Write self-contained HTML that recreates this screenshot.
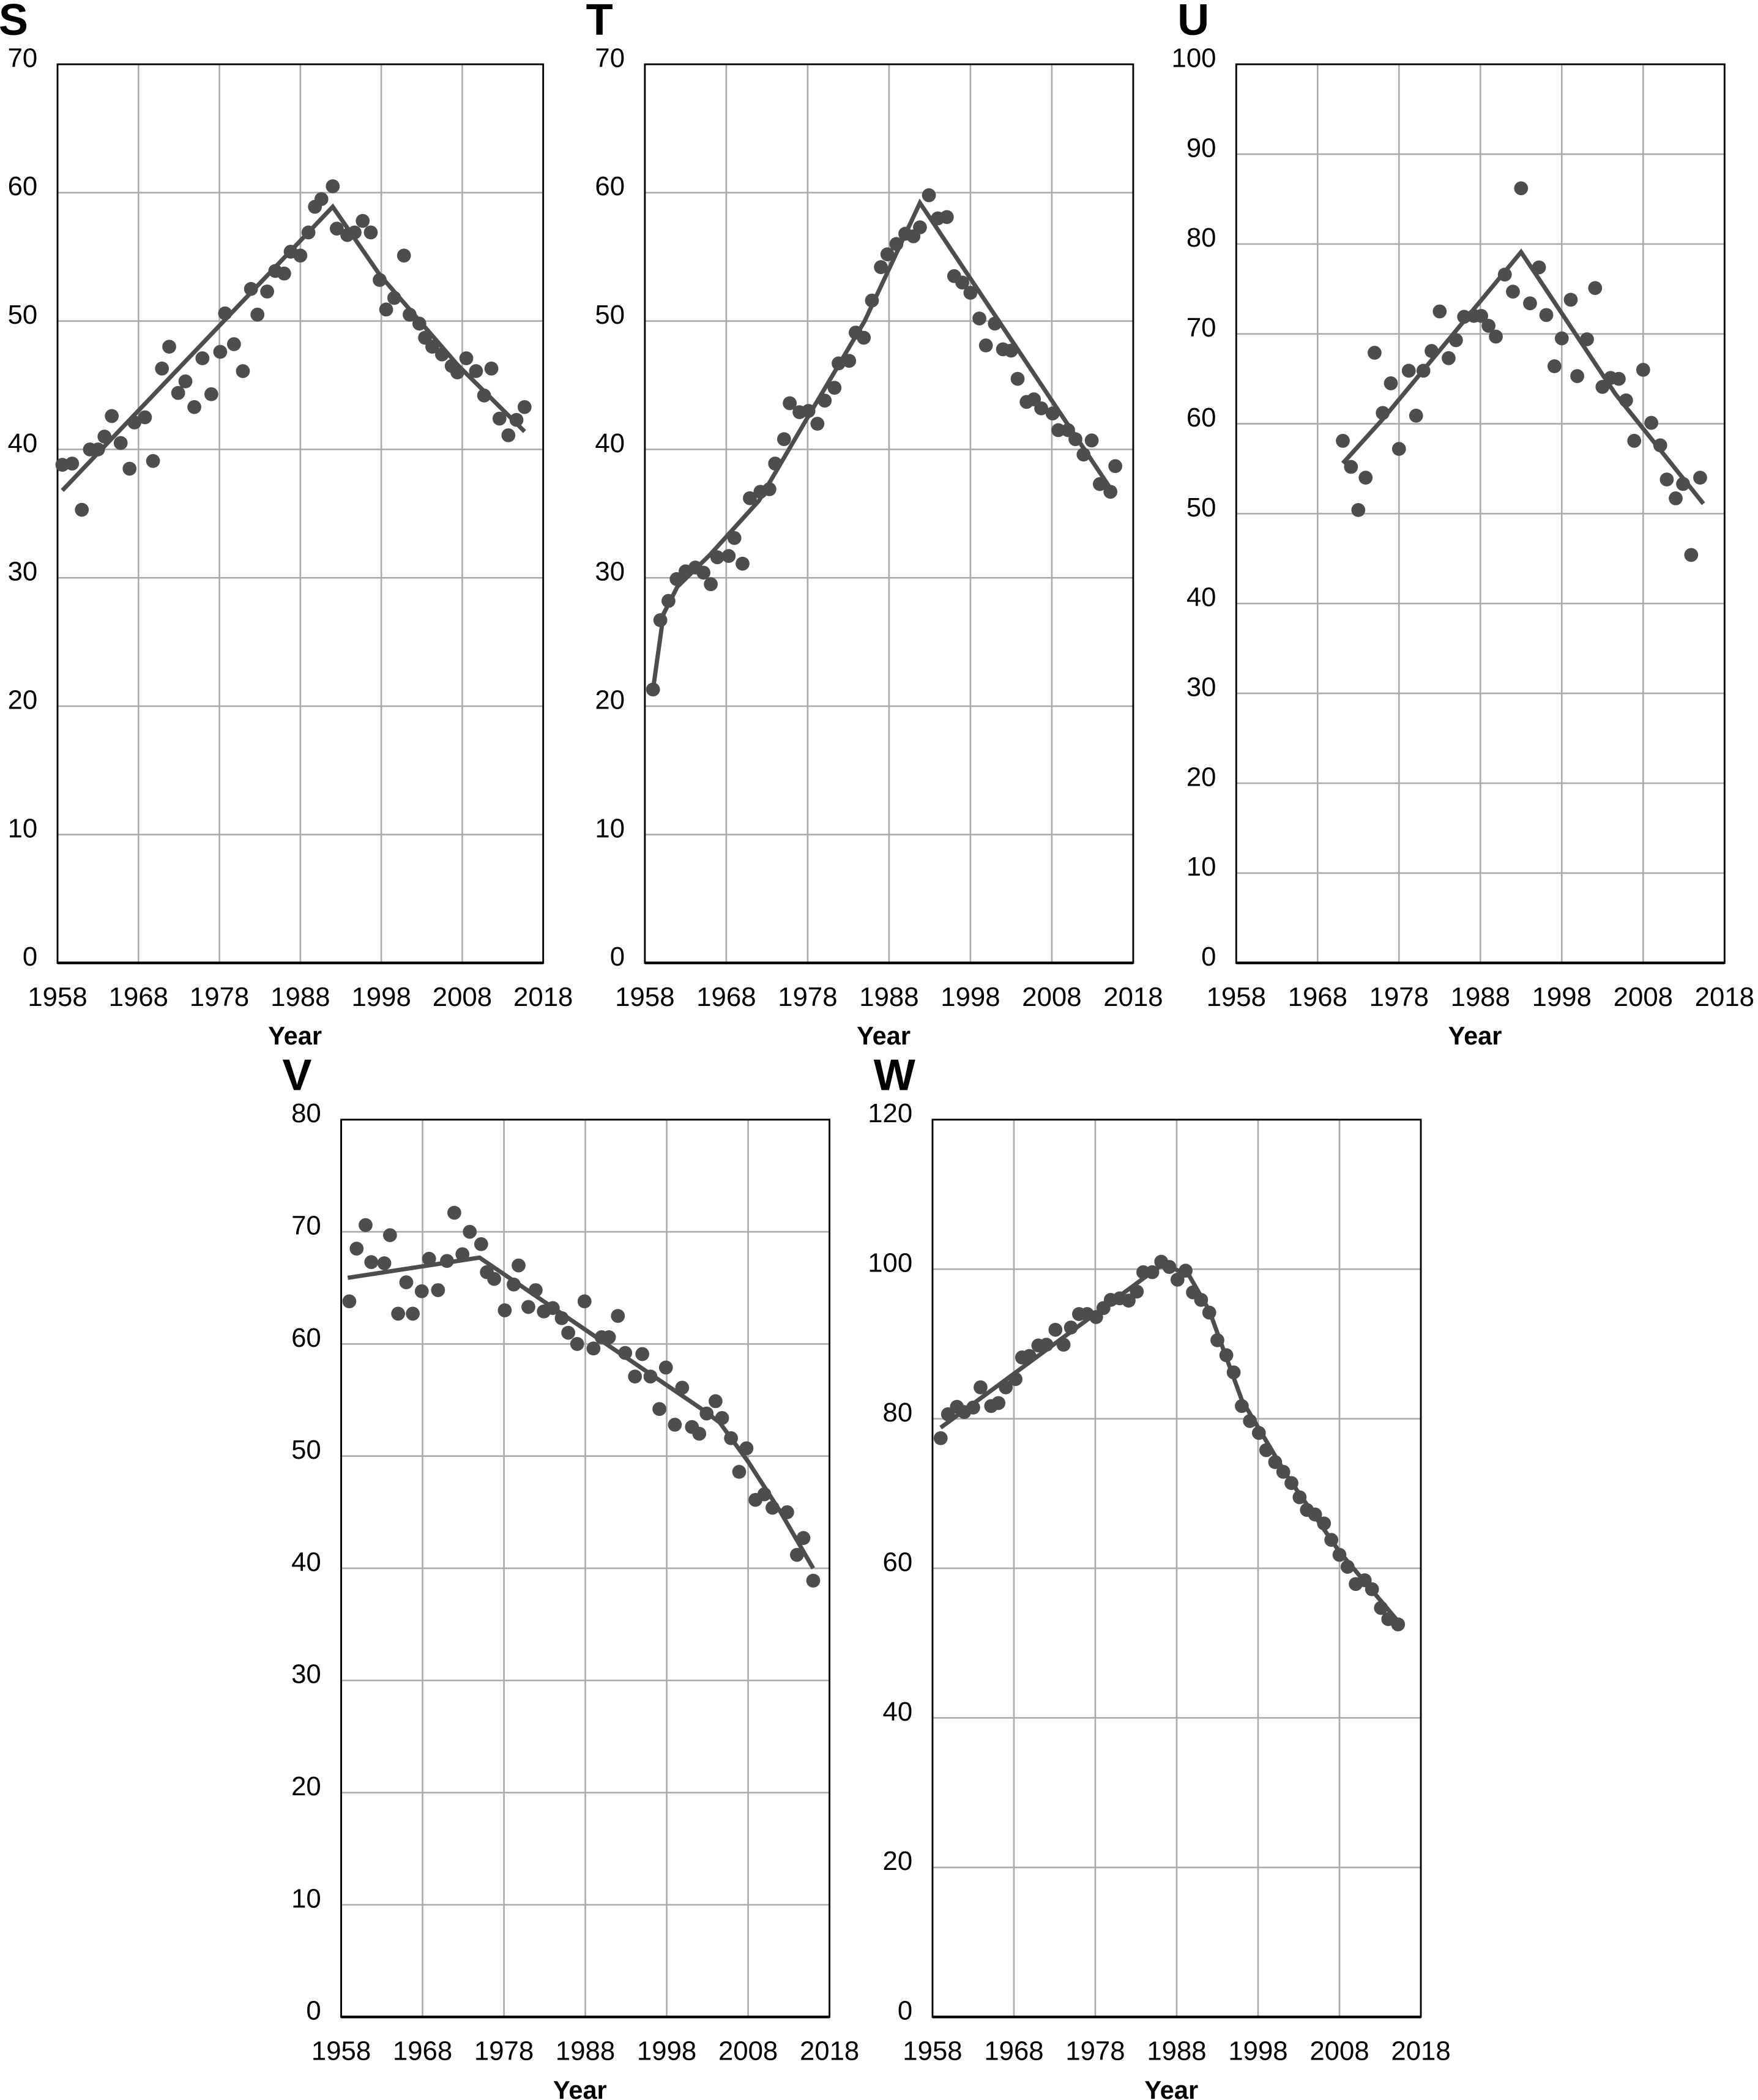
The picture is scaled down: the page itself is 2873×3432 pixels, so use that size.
<!DOCTYPE html>
<html><head><meta charset="utf-8">
<style>
html,body{margin:0;padding:0;background:#fff;}
svg{display:block;}
text{font-family:"Liberation Sans",sans-serif;fill:#000;}
</style></head>
<body>
<svg id="fig" width="2873" height="3432" viewBox="0 0 1314 1568" preserveAspectRatio="none" xmlns="http://www.w3.org/2000/svg"></svg>
<script>
// ---- Panel S data ----
const sYears=[1958.6,1959.8,1961,1962,1963,1963.8,1964.7,1965.8,1966.9,1967.5,1968.8,1969.8,1970.9,1971.8,1972.9,1973.8,1974.9,1975.9,1977,1978.1,1978.7,1979.8,1980.9,1981.9,1982.7,1983.9,1984.9,1986,1986.8,1988,1989,1989.8,1990.6,1992,1992.5,1993.8,1994.7,1995.7,1996.7,1997.8,1998.6,1999.6,2000.8,2001.5,2002.7,2003.4,2004.3,2005.5,2006.7,2007.4,2008.5,2009.7,2010.7,2011.6,2012.6,2013.7,2014.7,2015.7];
const sValues=[38.8,38.9,35.3,40.0,40.0,41.0,42.6,40.5,38.5,42.1,42.5,39.1,46.3,48.0,44.4,45.3,43.3,47.1,44.3,47.6,50.6,48.2,46.1,52.5,50.5,52.3,53.9,53.7,55.4,55.1,56.9,58.9,59.5,60.5,57.2,56.7,56.9,57.8,56.9,53.2,50.9,51.8,55.1,50.5,49.8,48.7,48.0,47.4,46.5,46.0,47.1,46.1,44.2,46.3,42.4,41.1,42.3,43.3];
const sTrendYears=[1958.6,1992,1997.8,2007.4,2015.7];
const sTrendValues=[36.8,58.9,53.6,46.6,41.4];
const sTicks=[0,10,20,30,40,50,60,70];
// ---- Panel T data ----
const tYears=[1959,1959.9,1960.9,1961.9,1963,1964.2,1965.2,1966.1,1966.9,1968.3,1969,1970,1970.9,1972.2,1973.3,1974,1975.1,1975.8,1977,1978.1,1979.2,1980.1,1981.3,1981.8,1983.1,1983.9,1984.9,1985.9,1987,1987.8,1988.9,1990,1991,1991.8,1992.9,1994,1995.1,1996,1997,1998,1999.1,1999.9,2001,2002,2003,2003.8,2004.9,2005.8,2006.7,2008.1,2008.8,2010,2010.9,2011.9,2012.9,2013.9,2015.2,2015.8];
const tValues=[21.3,26.7,28.2,29.9,30.5,30.8,30.4,29.5,31.6,31.7,33.1,31.1,36.2,36.7,36.9,38.9,40.8,43.6,42.9,43.0,42.0,43.8,44.8,46.7,46.9,49.1,48.7,51.6,54.2,55.2,56.0,56.8,56.6,57.3,59.8,58.0,58.1,53.5,53.0,52.2,50.2,48.1,49.8,47.8,47.7,45.5,43.7,43.9,43.2,42.8,41.5,41.5,40.8,39.6,40.7,37.3,36.7,38.7];
const tTrendYears=[1959,1960.3,1962,1966,1972,1978,1985,1991.8,2015.8];
const tTrendValues=[21.3,27.2,29.3,31.8,36.0,42.5,50.0,59.2,36.4];
const tTicks=[0,10,20,30,40,50,60,70];
// ---- Panel U data ----
const uYears=[1971.1,1972.1,1973,1973.9,1975,1976,1977,1978,1979.2,1980.1,1981,1982,1983,1984.1,1985,1986,1987.2,1988.1,1989,1989.9,1991,1992,1993,1994.1,1995.2,1996.1,1997.1,1998,1999.1,1999.9,2001.1,2002.1,2003,2004,2005,2005.9,2006.9,2008,2009,2010.1,2010.9,2012,2012.9,2013.9,2015];
const uValues=[58.1,55.2,50.4,54.0,67.9,61.2,64.5,57.2,65.9,60.9,65.9,68.1,72.5,67.3,69.3,71.9,72.0,72.0,70.9,69.7,76.6,74.7,86.2,73.4,77.4,72.1,66.4,69.5,73.8,65.3,69.4,75.1,64.1,65.1,65.0,62.6,58.1,66.0,60.1,57.6,53.8,51.7,53.3,45.4,54.0];
const uTrendYears=[1971.1,1976,1993,2004.6,2015.4];
const uTrendValues=[55.6,60.5,79.1,63.3,51.1];
const uTicks=[0,10,20,30,40,50,60,70,80,90,100];
// ---- Panel V data ----
const vYears=[1959,1959.9,1961,1961.7,1963.3,1964,1965,1966,1966.8,1967.9,1968.8,1969.9,1971,1971.9,1972.9,1973.8,1975.2,1975.9,1976.8,1978.1,1979.2,1979.8,1981,1981.9,1982.9,1984,1985.1,1985.9,1987,1987.9,1989,1990,1990.9,1992,1992.9,1994.1,1995,1996,1997.1,1997.9,1999,1999.9,2001.1,2002,2002.9,2004,2004.8,2005.9,2006.9,2007.8,2008.9,2010,2011,2012.8,2014,2014.8,2016];
const vValues=[63.8,68.5,70.6,67.3,67.2,69.7,62.7,65.5,62.7,64.7,67.6,64.8,67.4,71.7,68.0,70.0,68.9,66.4,65.8,63.0,65.3,67.0,63.3,64.8,62.9,63.2,62.3,61.0,60.0,63.8,59.6,60.6,60.6,62.5,59.2,57.1,59.1,57.1,54.2,57.9,52.8,56.1,52.6,52.0,53.8,54.9,53.4,51.6,48.6,50.7,46.1,46.6,45.4,45.0,41.2,42.7,38.9];
const vTrendYears=[1958.8,1975,2002.3,2004.5,2008,2012,2016];
const vTrendValues=[65.9,67.7,54.2,53.0,49.5,45.0,40.0];
const vTicks=[0,10,20,30,40,50,60,70,80];
// ---- Panel W data ----
const wYears=[1959,1959.9,1961,1961.9,1963,1963.9,1965.2,1966.1,1967,1968.2,1969,1969.9,1971,1972,1973.1,1974.1,1975,1976,1977,1978.1,1979,1979.9,1981,1982.1,1983.1,1983.9,1985,1986.1,1987.1,1988.1,1989.1,1990,1991,1992,1993,1994.1,1995,1996,1997,1998.1,1999,2000.1,2001.1,2002.1,2003.1,2004,2005,2006.1,2007,2008,2009,2010,2011.1,2012,2013.1,2014,2015.2];
const wValues=[77.4,80.6,81.6,80.9,81.5,84.2,81.7,82.1,84.2,85.3,88.2,88.4,89.8,89.9,91.9,89.9,92.2,94.0,94.0,93.6,94.8,95.9,96.1,95.8,97.0,99.6,99.6,101.0,100.3,98.6,99.8,96.9,95.9,94.2,90.5,88.5,86.2,81.7,79.7,78.1,75.8,74.2,72.9,71.4,69.5,67.8,67.2,66.0,63.8,61.8,60.2,57.9,58.4,57.2,54.7,53.2,52.5];
const wTrendYears=[1959,1986.3,1989.5,1992,1996,2001.6,2008,2015.2];
const wTrendValues=[78.8,100.7,99.2,94.5,82.5,72.3,62.2,52.9];
const wTicks=[0,20,40,60,80,100,120];
const xTicks=[1958,1968,1978,1988,1998,2008,2018];

const NS='http://www.w3.org/2000/svg';
const svg=document.getElementById('fig');
function mk(tag,attrs,parent){const e=document.createElementNS(NS,tag);for(const k in attrs)e.setAttribute(k,attrs[k]);(parent||svg).appendChild(e);return e;}

function panel(letter,L,T,W,H,yMax,yTicks,years,values,tY,tV){
  const g=mk('g',{});
  
  
  const xs=y=>L+(y-1958)/60*W;
  const ys=v=>T+H-(v/yMax)*H;
  yTicks.forEach(v=>{
    const ln=mk('line',{x1:L,x2:L+W,y1:ys(v),y2:ys(v),stroke:'#ababab','stroke-width':1.2},g);
    
    
    const t=mk('text',{x:L-15,y:ys(v)+2,'font-size':20,'text-anchor':'end'},g);
    t.textContent=v;
    
    
  });
  xTicks.forEach(yr=>{
    const ln=mk('line',{x1:xs(yr),x2:xs(yr),y1:T,y2:T+H,stroke:'#ababab','stroke-width':1.2},g);
    
    
    const t=mk('text',{x:xs(yr),y:T+H+32,'font-size':20,'text-anchor':'middle'},g);
    t.textContent=yr;
    
    
  });
  const fr=mk('rect',{x:L,y:T,width:W,height:H,fill:'none',stroke:'#000','stroke-width':1.3},g);
  
  
  const ax=mk('line',{x1:L,x2:L+W,y1:T+H,y2:T+H,stroke:'#000','stroke-width':2},g);
  
  
  const pts=tY.map((y,i)=>xs(y).toFixed(1)+','+ys(tV[i]).toFixed(1)).join(' ');
  const pl=mk('polyline',{points:pts,fill:'none',stroke:'#4d4d4d','stroke-width':3.2,'stroke-linejoin':'miter'},g);
  
  
  years.forEach((y,i)=>{
    const c=mk('circle',{cx:xs(y),cy:ys(values[i]),r:5.2,fill:'#4d4d4d'},g);
    
    
  });
  const xt=mk('text',{x:L+W/2-4,y:T+H+61,'font-size':19,'font-weight':'bold','text-anchor':'middle'},g);
  xt.textContent='Year';
  
  
  const pt=mk('text',{x:L-44,y:T-22,'font-size':33,'font-weight':'bold'},g);
  pt.textContent=letter;
  
  
}
panel('S',43,48,363,671,70,sTicks,sYears,sValues,sTrendYears,sTrendValues);
panel('T',482,48,365,671,70,tTicks,tYears,tValues,tTrendYears,tTrendValues);
panel('U',924,48,365,671,100,uTicks,uYears,uValues,uTrendYears,uTrendValues);
panel('V',255,836,365,670,80,vTicks,vYears,vValues,vTrendYears,vTrendValues);
panel('W',697,836,365,670,120,wTicks,wYears,wValues,wTrendYears,wTrendValues);
</script>
</body></html>
